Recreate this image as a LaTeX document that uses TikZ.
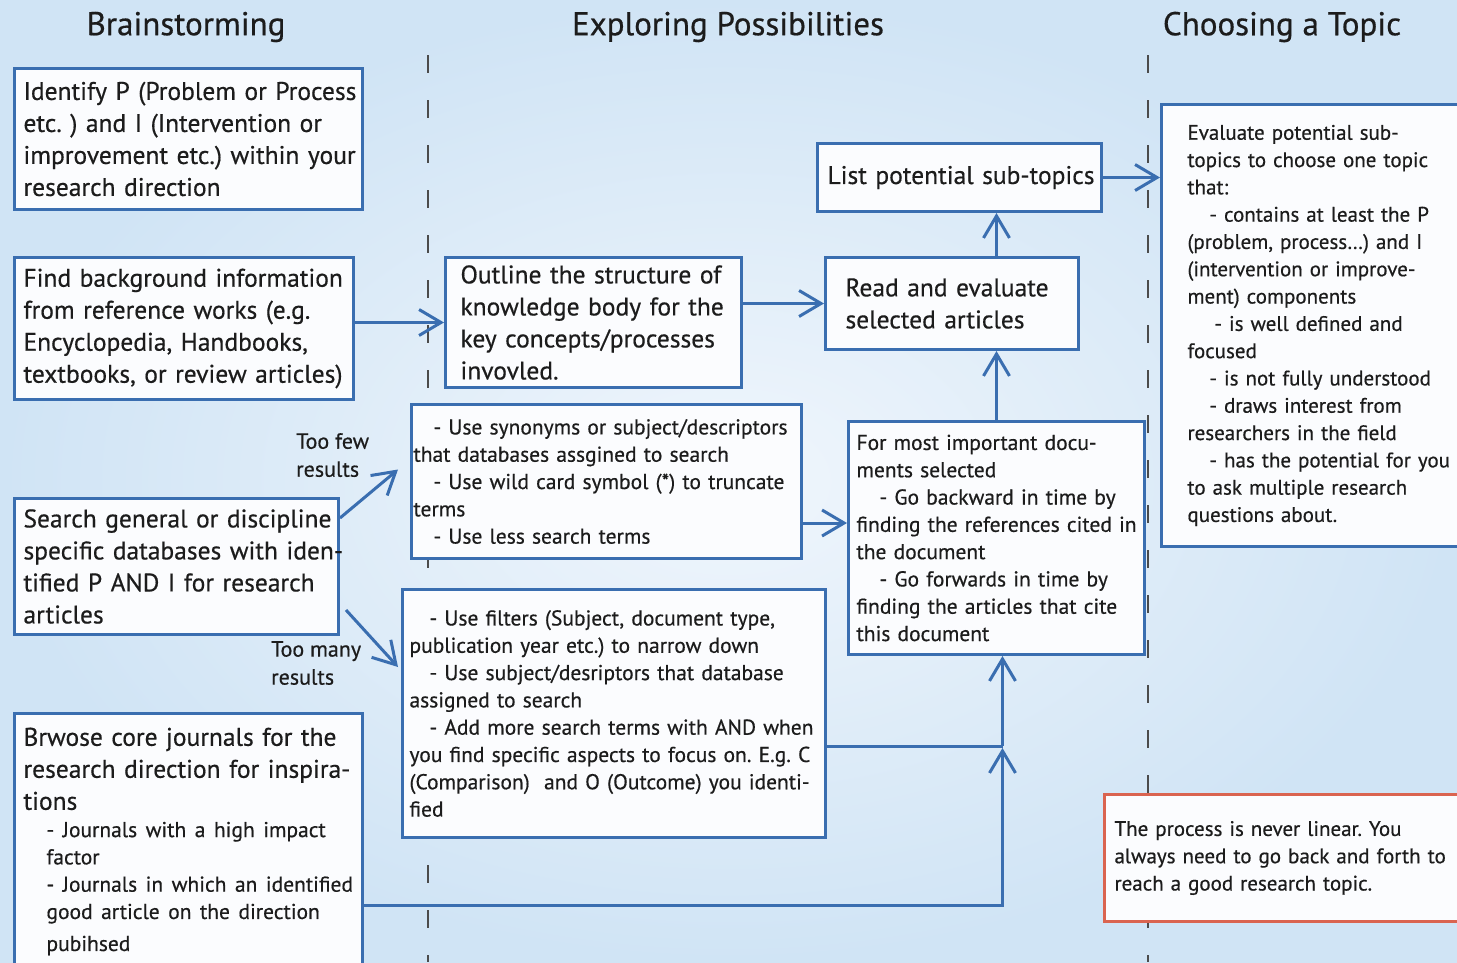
\documentclass[tikz,border=0pt]{standalone}
\usepackage{fontspec}
\setmainfont{PT Sans}[FakeBold=0.5]
\frenchspacing
\usetikzlibrary{arrows.meta}

\definecolor{boxblue}{RGB}{58,110,176}
\definecolor{notered}{RGB}{218,100,80}
\definecolor{bgblue}{RGB}{208,228,245}
\definecolor{bglight}{RGB}{240,246,252}
\definecolor{sepgray}{RGB}{75,75,75}
\definecolor{boxfill}{RGB}{251,252,254}
\definecolor{inkgray}{RGB}{28,28,28}

\begin{document}
\begin{tikzpicture}[x=1pt,y=-1pt,
  box/.style={draw=boxblue, line width=3pt, fill=boxfill, text=inkgray, anchor=north west, align=left, inner ysep=2pt,
    execute at begin node={\rightskip=-40pt plus 2em\relax}},
  big/.style={font=\fontsize{25.5}{32}\selectfont},
  small/.style={font=\fontsize{21.5}{27.3}\selectfont},
  smaller/.style={font=\fontsize{21}{27.3}\selectfont},
  head/.style={font=\fontsize{33}{38}\selectfont, text=inkgray},
  lbl/.style={font=\fontsize{22}{28}\selectfont, text=inkgray, align=left, anchor=north west, inner sep=0pt},
  link/.style={draw=boxblue, line width=3pt, -{Straight Barb[length=22pt,width=26pt]}},
  joint/.style={draw=boxblue, line width=3pt},
  sep/.style={sepgray, line width=2.5pt, dash pattern=on 18pt off 27pt}]

  \useasboundingbox (0,0) rectangle (1457,962);
  \clip (0,0) rectangle (1457,962);
  \shade[inner color=bglight, outer color=bgblue] (0,0) rectangle (1457,962);

  % column separators
  \draw[sep] (428,55) -- (428,962);
  \draw[sep] (1148,55) -- (1148,962);

  % headings
  \node[head] (hbrain) at (186,27) {Brainstorming};
  \node[head] (hexplore) at (728,27) {Exploring Possibilities};
  \node[head] (hchoose) at (1282,27) {Choosing a Topic};

  % brainstorming column
  \node[box, big, minimum width=348pt, minimum height=141pt, text width=330pt, inner xsep=9pt] (ident) at (13,67)
    {Identify P (Problem or Process\\ etc. ) and I (Intervention or\\ improvement etc.) within your\\ research direction};
  \node[box, big, minimum width=339pt, minimum height=142pt, text width=321pt, inner xsep=9pt] (backgr) at (13,256)
    {Find background information\\ from reference works (e.g.\\ Encyclopedia, Handbooks,\\ textbooks, or review articles)};
  \node[box, big, minimum width=324pt, minimum height=136pt, text width=306pt, inner xsep=9pt] (search) at (13,497)
    {Search general or discipline\\ specific databases with iden-\\ tified P AND I for research\\ articles};
  \node[box, big, minimum width=348pt, minimum height=256pt, text width=330pt, inner xsep=9pt] (browse) at (13,712)
    {Brwose core journals for the\\ research direction for inspira-\\ tions\\
     \fontsize{21.5}{27.3}\selectfont\hspace*{23pt}- Journals with a high impact\\ \hspace*{23pt}factor\\
     \hspace*{23pt}- Journals in which an identified\\ \hspace*{23pt}good article on the direction\\ \hspace*{23pt}pubihsed};

  % exploring column
  \node[box, big, minimum width=296pt, minimum height=130pt, text width=266pt, inner xsep=15pt] (outline) at (444,256)
    {Outline the structure of\\ knowledge body for the\\ key concepts/processes\\ invovled.};
  \node[box, small, minimum width=390pt, minimum height=154pt, text width=386pt, inner xsep=2pt] (fewres) at (410,403)
    {\hspace*{20pt}- Use synonyms or subject/descriptors\\ that databases assgined to search\\
     \hspace*{20pt}- Use wild card symbol (*) to truncate\\ terms\\ \hspace*{20pt}- Use less search terms};
  \node[box, small, minimum width=423pt, minimum height=248pt, text width=409pt, inner xsep=7pt] (manyres) at (401,588)
    {\hspace*{20pt}- Use filters (Subject, document type,\\ publication year etc.) to narrow down\\
     \hspace*{20pt}- Use subject/desriptors that database\\ assigned to search\\
     \hspace*{20pt}- Add more search terms with AND when\\ you find specific aspects to focus on. E.g. C\\
     (Comparison)\ \ and O (Outcome) you identi-\\ fied};
  \node[box, big, minimum width=284pt, minimum height=68pt, text width=264pt, inner xsep=10pt] (listsub) at (816,142)
    {List potential sub-topics};
  \node[box, big, minimum width=253pt, minimum height=92pt, text width=213pt, inner xsep=20pt] (readeval) at (824,256)
    {Read and evaluate\\ selected articles};
  \node[box, small, minimum width=296pt, minimum height=233pt, text width=280pt, inner xsep=8pt] (citing) at (847,420)
    {For most important docu-\\ ments selected\\ \hspace*{23pt}- Go backward in time by\\ finding the references cited in\\
     the document\\ \hspace*{23pt}- Go forwards in time by\\ finding the articles that cite\\ this document};

  % choosing column
  \node[box, smaller, minimum width=330pt, minimum height=442pt, text width=278pt, inner xsep=26pt] (evaltopic) at (1160,103)
    {Evaluate potential sub-\\ topics to choose one topic\\ that:\\ \hspace*{22pt}- contains at least the P\\
     (problem, process\ldots) and I\\ (intervention or improve-\\ ment) components\\ \hspace*{27pt}- is well defined and\\
     focused\\ \hspace*{22pt}- is not fully understood\\ \hspace*{22pt}- draws interest from\\ researchers in the field\\
     \hspace*{22pt}- has the potential for you\\ to ask multiple research\\ questions about.};
  \node[box, smaller, draw=notered, minimum width=380pt, minimum height=127pt, text width=360pt, inner xsep=10pt] (note) at (1103,793)
    {The process is never linear. You\\ always need to go back and forth to\\ reach a good research topic.};

  % labels
  \node[lbl] (toofew) at (296,433) {Too few\\results};
  \node[lbl] (toomany) at (271,641) {Too many\\results};

  % connectors
  \draw[link] (backgr.east |- outline.west) -- (outline.west);
  \draw[link] (outline.east |- readeval.west) -- (readeval.west);
  \draw[link] (citing.north) -- (citing.north |- readeval.south);
  \draw[link] (citing.north |- readeval.north) -- (citing.north |- listsub.south);
  \draw[link] (listsub.east) -- (listsub.east -| evaltopic.west);
  \draw[link] ([yshift=37pt]fewres.south east) -- ([yshift=37pt]fewres.south east -| citing.west);
  \draw[link] ([yshift=-21pt]search.north east) -- ([xshift=-12pt,yshift=12pt]fewres.west);
  \draw[link] ([xshift=6pt,yshift=26pt]search.south east) -- ([xshift=-3pt,yshift=-79pt]manyres.north west);

  \coordinate (merge) at ([xshift=6pt,yshift=-90pt]citing.south);
  \draw[joint] (manyres.east |- merge) -- (merge);
  \draw[link] (merge) -- (merge |- citing.south);
  \draw[link] ([yshift=-193pt]browse.north east) -| ([yshift=-2pt]merge);
\end{tikzpicture}
\end{document}
